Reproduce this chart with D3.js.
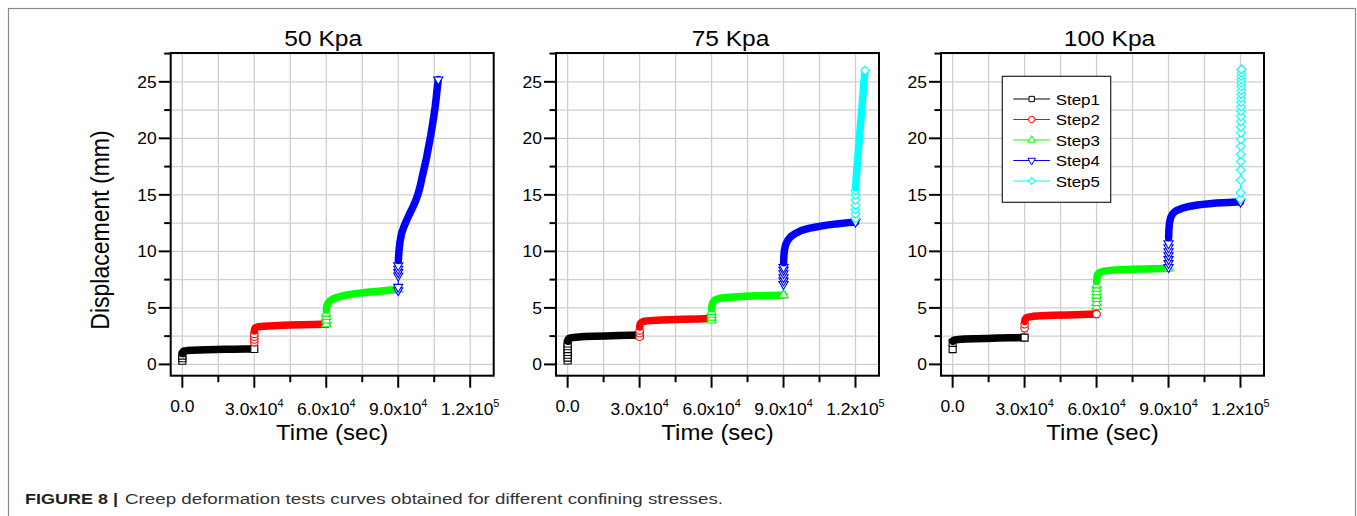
<!DOCTYPE html>
<html>
<head>
<meta charset="utf-8">
<script src="https://cdn.jsdelivr.net/npm/d3@7"></script>
<style>
  body { margin: 0; background: #fff; }
  svg { display: block; font-family: "Liberation Sans", Arial, sans-serif; }
</style>
</head>
<body>
<div id="chart"></div>
<script>
var panelTitles = ["50 Kpa", "75 Kpa", "100 Kpa"];
var stepNames = ["Step1", "Step2", "Step3", "Step4", "Step5"];
var xTicks = [0, 30000, 60000, 90000, 120000];
var xTickBase = ["0.0", "3.0x10", "6.0x10", "9.0x10", "1.2x10"];
var xTickPower = ["", "4", "4", "4", "5"];
var xMinorTicks = [15000, 45000, 75000, 105000];
var yTicks = [0, 5, 10, 15, 20, 25];
var yMinorTicks = [2.5, 7.5, 12.5, 17.5, 22.5, 27.5];

// [time (sec), displacement (mm)] -- start-up readings of each step, then the creep readings
var jump50 = [
  [[0,0.32],[0,0.55],[0,0.78]],
  [[30000,1.95],[30000,2.2],[30000,2.45],[30000,2.7]],
  [[60000,3.57],[60000,3.9],[60000,4.2],[60000,4.5]],
  [[90000,6.55],[90000,6.85],[90000,7.85],[90000,8.15],[90000,8.45],[90000,8.75]]
];
var creep50 = [
  [[60,0.95],[150,1.08],[400,1.15],[1000,1.19],[2000,1.22],[4000,1.25],[7000,1.28],[10000,1.3],[14000,1.32],[18000,1.34],[22000,1.35],[26000,1.36],[30000,1.36]],
  [[30050,2.95],[30150,3.12],[30400,3.22],[31000,3.3],[32500,3.35],[36000,3.4],[40000,3.44],[45000,3.48],[50000,3.51],[55000,3.54],[60000,3.57]],
  [[60050,4.8],[60200,5.1],[60600,5.35],[61400,5.6],[62800,5.8],[64800,5.95],[68000,6.12],[72000,6.26],[77000,6.38],[82000,6.48],[86000,6.56],[90000,6.63]],
  [[90050,9.2],[90300,10.0],[90700,10.8],[91400,11.6],[92400,12.2],[93600,12.8],[94900,13.4],[96100,13.9],[97300,14.5],[98300,15.1],[99300,15.9],[100200,16.8],[101100,17.6],[101900,18.4],[102700,19.3],[103500,20.2],[104200,21.1],[104800,21.9],[105400,22.8],[105900,23.7],[106300,24.5],[106700,25.2]]
];

var jump75 = [
  [[0,0.35],[0,0.6],[0,0.85],[0,1.1],[0,1.35],[0,1.6],[0,1.85]],
  [[30000,2.45],[30000,2.75],[30000,3.0]],
  [[60000,3.9],[60000,4.15],[60000,4.4],[60000,4.65]],
  [[90000,7.1],[90000,7.4],[90000,7.7],[90000,8.05],[90000,8.35],[90000,8.6]],
  [[120000,12.9],[120000,13.3],[120000,13.7],[120000,14.1],[120000,14.55],[120000,15.0],[120000,15.35]]
];
var creep75 = [
  [[60,2.05],[200,2.2],[600,2.3],[1500,2.36],[3500,2.41],[7000,2.46],[11000,2.49],[16000,2.52],[21000,2.55],[26000,2.57],[30000,2.59]],
  [[30050,3.3],[30200,3.55],[30600,3.7],[31500,3.79],[33000,3.85],[37000,3.9],[42000,3.95],[48000,3.99],[54000,4.02],[60000,4.05]],
  [[60050,4.95],[60200,5.25],[60600,5.5],[61400,5.7],[62800,5.82],[65000,5.9],[69000,5.97],[74000,6.02],[80000,6.07],[85000,6.1],[90000,6.13]],
  [[90050,9.0],[90150,9.6],[90400,10.15],[90900,10.6],[91800,11.0],[93000,11.3],[95000,11.6],[97500,11.85],[100500,12.03],[104000,12.18],[108000,12.32],[112000,12.43],[116000,12.52],[120000,12.6]],
  [[120050,15.6],[120300,16.5],[120700,17.6],[121200,18.9],[121700,20.2],[122200,21.5],[122700,22.8],[123200,24.1],[123600,25.2],[124000,26.0]]
];

var jump100 = [
  [[0,1.35],[0,1.9]],
  [[30000,3.19],[30000,3.55]],
  [[60000,5.1],[60000,5.45],[60000,5.8],[60000,6.1],[60000,6.4],[60000,6.7],[60000,7.0]],
  [[90000,8.6],[90000,8.95],[90000,9.3],[90000,9.65],[90000,10.0],[90000,10.35],[90000,10.7]],
  [[120000,14.63],[120000,15.2],[120050,16.3],[120050,17.2],[120100,17.95],[120100,18.6],[120100,19.3],[120150,19.9],[120150,20.5],[120150,21.0],[120200,21.5],[120200,21.95],[120200,22.4],[120250,22.8],[120250,23.2],[120250,23.55],[120300,23.9],[120300,24.25],[120300,24.6],[120350,24.9],[120350,25.2],[120350,25.5],[120400,25.8],[120400,26.1]]
];
var creep100 = [
  [[60,2.05],[300,2.12],[1000,2.17],[2500,2.2],[5000,2.24],[9000,2.27],[14000,2.3],[19000,2.33],[24000,2.35],[30000,2.37]],
  [[30050,3.8],[30200,3.98],[30600,4.1],[31500,4.18],[33500,4.25],[37000,4.3],[42000,4.34],[48000,4.38],[54000,4.42],[60000,4.45]],
  [[60050,7.35],[60200,7.75],[60600,8.0],[61400,8.15],[63000,8.25],[66000,8.32],[70000,8.37],[75000,8.41],[80000,8.44],[85000,8.47],[90000,8.5]],
  [[90050,11.2],[90150,11.9],[90400,12.5],[90900,13.0],[91800,13.35],[93200,13.6],[95500,13.8],[98500,13.97],[102000,14.1],[106000,14.2],[110000,14.27],[115000,14.33],[120000,14.38]],
  []
];

var panels = [
  {title: panelTitles[0], jump: jump50, creep: creep50},
  {title: panelTitles[1], jump: jump75, creep: creep75},
  {title: panelTitles[2], jump: jump100, creep: creep100}
];

// layout / style
var width = 1357, height = 516;
var plotLeft = [170.7, 556, 941];
var plotTop = 53, plotW = 323, plotH = 322.7;
var titleDx = [-9, 13, 7];
var textStretch = 1.09;
var colors = ["#000000", "#ff0000", "#00ff00", "#0000ff", "#00ffff"];
var gridColor = "#cfcfcf";
var bandWidth = 7.5;

var svg = d3.select("#chart").append("svg")
  .attr("width", width)
  .attr("height", height);

svg.append("rect")
  .attr("x", 8.5).attr("y", 8.5)
  .attr("width", 1347).attr("height", 530)
  .attr("fill", "none")
  .attr("stroke", "#8a8a8a")
  .attr("stroke-width", 1.2);

function stretchedText(g, x, y, str, size, anchor) {
  return g.append("text")
    .attr("transform", `translate(${x},${y}) scale(${textStretch},1)`)
    .attr("text-anchor", anchor)
    .attr("fill", "#000")
    .style("font-size", size + "px")
    .text(str);
}

function symbolFor(i, size) {
  var shapes = [d3.symbolSquare, d3.symbolCircle, d3.symbolTriangle, d3.symbolTriangle, d3.symbolSquare];
  return d3.symbol().type(shapes[i]).size(size)();
}
var symbolRotate = [0, 0, 0, 180, 45];
var plotSizes = [49, 44, 36, 36, 38];
var legendSizes = [28, 32, 25, 25, 24];

panels.forEach(function(p, pi) {
  var x = d3.scaleLinear().domain([-4850, 129800]).range([0, plotW]);
  var y = d3.scaleLinear().domain([-1, 27.55]).range([plotH, 0]);

  var g = svg.append("g")
    .attr("transform", `translate(${plotLeft[pi]}, ${plotTop})`);

  // grid
  g.append("g").selectAll("line")
    .data(xTicks.concat(xMinorTicks)).enter()
    .append("line")
    .attr("x1", d => x(d)).attr("x2", d => x(d))
    .attr("y1", 0).attr("y2", plotH)
    .attr("stroke", gridColor).attr("stroke-width", 1.3);
  g.append("g").selectAll("line")
    .data(yTicks.concat(yMinorTicks)).enter()
    .append("line")
    .attr("x1", 0).attr("x2", plotW)
    .attr("y1", d => y(d)).attr("y2", d => y(d))
    .attr("stroke", gridColor).attr("stroke-width", 1.3);

  var line = d3.line().x(d => x(d[0])).y(d => y(d[1]));

  // series: thin line, start-up symbols, dense creep band, final symbol
  stepNames.forEach(function(name, si) {
    if (!p.jump[si]) return;
    var jumps = p.jump[si], creep = p.creep[si];
    var all = jumps.concat(creep);
    var s = g.append("g").attr("class", "series");

    s.append("path")
      .attr("d", line(all))
      .attr("fill", "none")
      .attr("stroke", colors[si])
      .attr("stroke-width", 1);

    s.selectAll(".jump")
      .data(jumps).enter()
      .append("path")
      .attr("class", "jump")
      .attr("d", symbolFor(si, plotSizes[si]))
      .attr("transform", d => `translate(${x(d[0])},${y(d[1])}) rotate(${symbolRotate[si]})`)
      .attr("fill", "#fff")
      .attr("stroke", colors[si])
      .attr("stroke-width", 1.1);

    if (creep.length > 1) {
      s.append("path")
        .attr("d", line(creep))
        .attr("fill", "none")
        .attr("stroke", colors[si])
        .attr("stroke-width", bandWidth)
        .attr("stroke-linejoin", "round")
        .attr("stroke-linecap", "round");
    }

    var last = all[all.length - 1];
    s.append("path")
      .attr("d", symbolFor(si, plotSizes[si]))
      .attr("transform", `translate(${x(last[0])},${y(last[1])}) rotate(${symbolRotate[si]})`)
      .attr("fill", "#fff")
      .attr("stroke", colors[si])
      .attr("stroke-width", 1.1);
  });

  // frame
  g.append("rect")
    .attr("width", plotW).attr("height", plotH)
    .attr("fill", "none")
    .attr("stroke", "#000")
    .attr("stroke-width", 2);

  // ticks
  g.append("g").selectAll("line")
    .data(yTicks.map(v => [v, 12]).concat(yMinorTicks.map(v => [v, 6.5]))).enter()
    .append("line")
    .attr("x1", d => -d[1]).attr("x2", 0)
    .attr("y1", d => y(d[0])).attr("y2", d => y(d[0]))
    .attr("stroke", "#000").attr("stroke-width", 2);
  g.append("g").selectAll("line")
    .data(xTicks.map(v => [v, 12]).concat(xMinorTicks.map(v => [v, 6.5]))).enter()
    .append("line")
    .attr("x1", d => x(d[0])).attr("x2", d => x(d[0]))
    .attr("y1", plotH).attr("y2", d => plotH + d[1])
    .attr("stroke", "#000").attr("stroke-width", 2);

  // tick labels
  yTicks.forEach(function(v) {
    stretchedText(g, -14, y(v) + 5.7, String(v), 16, "end");
  });
  xTicks.forEach(function(v, i) {
    var t = stretchedText(g, x(v), plotH + (xTickPower[i] ? 39.5 : 36.3), xTickBase[i], 16, "middle");
    if (xTickPower[i]) {
      t.append("tspan")
        .attr("dy", -8)
        .style("font-size", "10px")
        .text(xTickPower[i]);
    }
  });

  // titles
  stretchedText(g, plotW / 2 + titleDx[pi], -7.3, p.title, 22.5, "middle");
  stretchedText(g, plotW / 2, 387, "Time (sec)", 22, "middle");

  if (pi === 0) {
    g.append("text")
      .attr("transform", `translate(${109 - plotLeft[0]}, ${230 - plotTop}) scale(${textStretch},1) rotate(-90)`)
      .attr("text-anchor", "middle")
      .style("font-size", "23px")
      .text("Displacement (mm)");
  }

  // legend in the last panel
  if (pi === 2) {
    var lg = g.append("g").attr("transform", "translate(61.3, 23.3)");
    lg.append("rect")
      .attr("width", 108.4).attr("height", 126)
      .attr("fill", "#fff")
      .attr("stroke", "#222")
      .attr("stroke-width", 1.2);
    stepNames.forEach(function(name, si) {
      var ry = 22.7 + si * 20.5;
      lg.append("line")
        .attr("x1", 11).attr("x2", 47.7)
        .attr("y1", ry).attr("y2", ry)
        .attr("stroke", colors[si]).attr("stroke-width", 1);
      lg.append("path")
        .attr("d", symbolFor(si, legendSizes[si]))
        .attr("transform", `translate(29.4,${ry}) rotate(${symbolRotate[si]})`)
        .attr("fill", "#fff")
        .attr("stroke", colors[si])
        .attr("stroke-width", 1);
      stretchedText(lg, 53.4, ry + 5.6, name, 15.5, "start");
    });
  }
});

// caption
var cap = svg.append("text")
  .attr("x", 25).attr("y", 503.5)
  .style("font-size", "15.5px")
  .attr("fill", "#333");
cap.append("tspan")
  .attr("font-weight", "bold")
  .attr("fill", "#231f20")
  .attr("textLength", 93)
  .attr("lengthAdjust", "spacingAndGlyphs")
  .text("FIGURE 8 |");
cap.append("tspan")
  .attr("x", 125)
  .attr("textLength", 598)
  .attr("lengthAdjust", "spacingAndGlyphs")
  .text("Creep deformation tests curves obtained for different confining stresses.");
</script>
</body>
</html>
